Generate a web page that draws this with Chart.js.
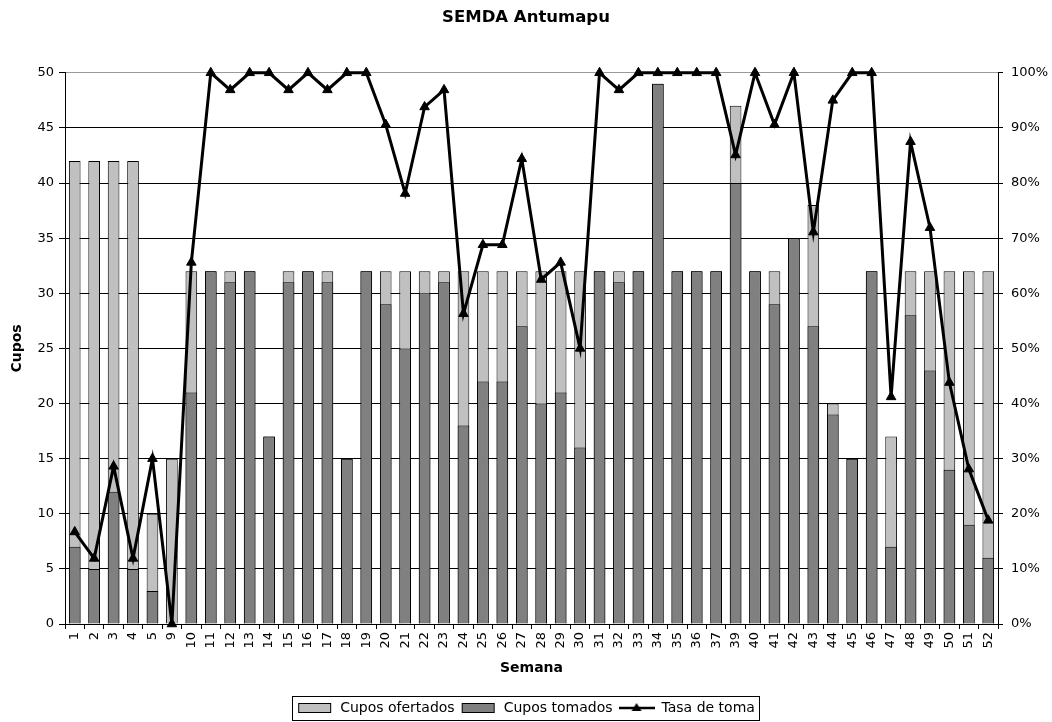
<!DOCTYPE html>
<html>
<head>
<meta charset="utf-8">
<title>SEMDA Antumapu</title>
<script src="https://cdn.jsdelivr.net/npm/chart.js@4/dist/chart.umd.min.js"></script>
<style>
  html, body { margin: 0; padding: 0; background: #fff; }
  #wrap { width: 1052px; height: 722px; }
</style>
</head>
<body>
<div id="wrap"><canvas id="semdaChart" width="1052" height="722"></canvas></div>
<script>
const semanas = ['1', '2', '3', '4', '5', '9', '10', '11', '12', '13', '14', '15', '16', '17', '18', '19',
  '20', '21', '22', '23', '24', '25', '26', '27', '28', '29', '30', '31', '32', '33', '34', '35', '36', '37',
  '39', '40', '41', '42', '43', '44', '45', '46', '47', '48', '49', '50', '51', '52'];

const cuposOfertados = [42, 42, 42, 42, 10, 15, 32, 32, 32, 32, 17, 32, 32, 32, 15, 32,
  32, 32, 32, 32, 32, 32, 32, 32, 32, 32, 32, 32, 32, 32, 49, 32, 32, 32,
  47, 32, 32, 35, 38, 20, 15, 32, 17, 32, 32, 32, 32, 32];

const cuposTomados = [7, 5, 12, 5, 3, 0, 21, 32, 31, 32, 17, 31, 32, 31, 15, 32,
  29, 25, 30, 31, 18, 22, 22, 27, 20, 21, 16, 32, 31, 32, 49, 32, 32, 32,
  40, 32, 29, 35, 27, 19, 15, 32, 7, 28, 23, 14, 9, 6];

// tasa de toma, en %
const tasaToma = [16.7, 11.9, 28.6, 11.9, 30.0, 0, 65.6, 100, 96.9, 100, 100, 96.9, 100, 96.9, 100, 100,
  90.6, 78.1, 93.8, 96.9, 56.3, 68.8, 68.8, 84.4, 62.5, 65.6, 50.0, 100, 96.9, 100, 100, 100, 100, 100,
  85.1, 100, 90.6, 100, 71.1, 95.0, 100, 100, 41.2, 87.5, 71.9, 43.8, 28.1, 18.8];

const cuposTicks = [0, 5, 10, 15, 20, 25, 30, 35, 40, 45, 50];

const FONT = '"DejaVu Sans", Verdana, sans-serif';
const LIGHT = '#c0c0c0';
const DARK = '#808080';
const SWATCH_W = 36;

function makeSwatch(kind) {
  const c = document.createElement('canvas');
  c.width = SWATCH_W;
  c.height = 12;
  const g = c.getContext('2d');
  if (kind === 'line') {
    g.strokeStyle = '#000';
    g.lineWidth = 2.5;
    g.beginPath();
    g.moveTo(0, 6);
    g.lineTo(SWATCH_W, 6);
    g.stroke();
    g.fillStyle = '#000';
    g.beginPath();
    g.moveTo(18, 1);
    g.lineTo(23, 9);
    g.lineTo(13, 9);
    g.closePath();
    g.fill();
  } else {
    g.fillStyle = kind;
    g.fillRect(1, 1, SWATCH_W - 3, 10);
    g.strokeStyle = '#000';
    g.lineWidth = 1;
    g.strokeRect(1.5, 1.5, SWATCH_W - 4, 9);
  }
  return c;
}

// caja alrededor de la leyenda
const legendBox = {
  id: 'legendBox',
  afterDraw(chart) {
    const legend = chart.legend;
    if (!legend || !legend.legendHitBoxes.length) return;
    const boxes = legend.legendHitBoxes;
    const left = Math.min(...boxes.map((b) => b.left)) - 5;
    const right = Math.max(...boxes.map((b) => b.left + b.width)) + 4;
    const top = Math.min(...boxes.map((b) => b.top)) - 5;
    const bottom = Math.max(...boxes.map((b) => b.top + b.height)) + 5;
    const ctx = chart.ctx;
    ctx.save();
    ctx.strokeStyle = '#000';
    ctx.lineWidth = 1;
    ctx.strokeRect(Math.round(left) + 0.5, Math.round(top) + 0.5, Math.round(right - left), Math.round(bottom - top));
    ctx.restore();
  },
};

function initChart() {
  const ctx = document.getElementById('semdaChart');
  if (!ctx || typeof Chart === 'undefined') return;
  Chart.defaults.font.family = FONT;
  Chart.defaults.font.size = 13;
  Chart.defaults.color = '#000';

  const swatches = [makeSwatch(LIGHT), makeSwatch(DARK), makeSwatch('line')];

  return new Chart(ctx, {
    type: 'bar',
    data: {
      labels: semanas,
      datasets: [
        {
          label: 'Cupos ofertados',
          data: cuposOfertados,
          backgroundColor: LIGHT,
          borderColor: '#000',
          borderWidth: 1,
          grouped: false,
          barPercentage: 0.6,
          categoryPercentage: 1,
          yAxisID: 'y',
          order: 3,
        },
        {
          label: 'Cupos tomados',
          data: cuposTomados,
          backgroundColor: DARK,
          borderColor: '#000',
          borderWidth: 1,
          grouped: false,
          barPercentage: 0.6,
          categoryPercentage: 1,
          yAxisID: 'y',
          order: 2,
        },
        {
          type: 'line',
          label: 'Tasa de toma',
          data: tasaToma,
          borderColor: '#000',
          backgroundColor: '#000',
          borderWidth: 3,
          tension: 0,
          pointStyle: 'triangle',
          pointRadius: 5.5,
          pointBackgroundColor: '#000',
          pointBorderColor: '#000',
          pointBorderWidth: 1,
          clip: false,
          yAxisID: 'y2',
          order: 1,
        },
      ],
    },
    options: {
      responsive: false,
      animation: false,
      devicePixelRatio: 1,
      layout: { padding: { top: 6, left: 0, right: 0, bottom: -3 } },
      plugins: {
        title: {
          display: true,
          text: 'SEMDA Antumapu',
          font: { size: 16.5, weight: 'bold' },
          padding: { top: 2, bottom: 45 },
        },
        legend: {
          position: 'bottom',
          labels: {
            usePointStyle: true,
            pointStyleWidth: SWATCH_W,
            padding: 6,
            font: { size: 14 },
            generateLabels(chart) {
              return chart.data.datasets.map((ds, i) => ({
                text: ds.label,
                datasetIndex: i,
                pointStyle: swatches[i],
                fillStyle: '#000',
                strokeStyle: '#000',
                lineWidth: 0,
                hidden: false,
                fontColor: '#000',
              }));
            },
          },
        },
        tooltip: { enabled: false },
      },
      scales: {
        x: {
          offset: true,
          grid: { display: true, drawOnChartArea: false, drawTicks: true, tickLength: 5, offset: true, color: '#000' },
          border: { color: '#000', width: 1 },
          ticks: { minRotation: 90, maxRotation: 90, autoSkip: false, padding: 3, font: { size: 13 } },
          title: { display: true, text: 'Semana', font: { size: 14, weight: 'bold' }, padding: { top: 0, bottom: 18 } },
          afterFit(scale) { scale.height = 71; },
        },
        y: {
          position: 'left',
          min: 0,
          max: 50,
          afterBuildTicks(scale) { scale.ticks = cuposTicks.map((v) => ({ value: v })); },
          grid: {
            color: (c) => (c.tick && c.tick.value === 50 ? '#999' : '#000'),
            tickColor: '#000',
            tickLength: 6,
            drawTicks: true,
          },
          border: { color: '#000', width: 1 },
          ticks: { padding: 5, font: { size: 13 } },
          title: { display: true, text: 'Cupos', font: { size: 14, weight: 'bold' }, padding: { top: 9, bottom: 0 } },
          afterFit(scale) { scale.width = 65; },
        },
        y2: {
          position: 'right',
          min: 0,
          max: 100,
          grid: { drawOnChartArea: false, color: '#000', tickLength: 5, drawTicks: true },
          border: { color: '#000', width: 1 },
          ticks: { stepSize: 10, padding: 8, font: { size: 13 }, callback: (v) => v + '%' },
          afterFit(scale) { scale.width = 54; },
        },
      },
    },
    plugins: [legendBox],
  });
}

document.addEventListener('DOMContentLoaded', () => {
  initChart();
});
</script>
</body>
</html>
